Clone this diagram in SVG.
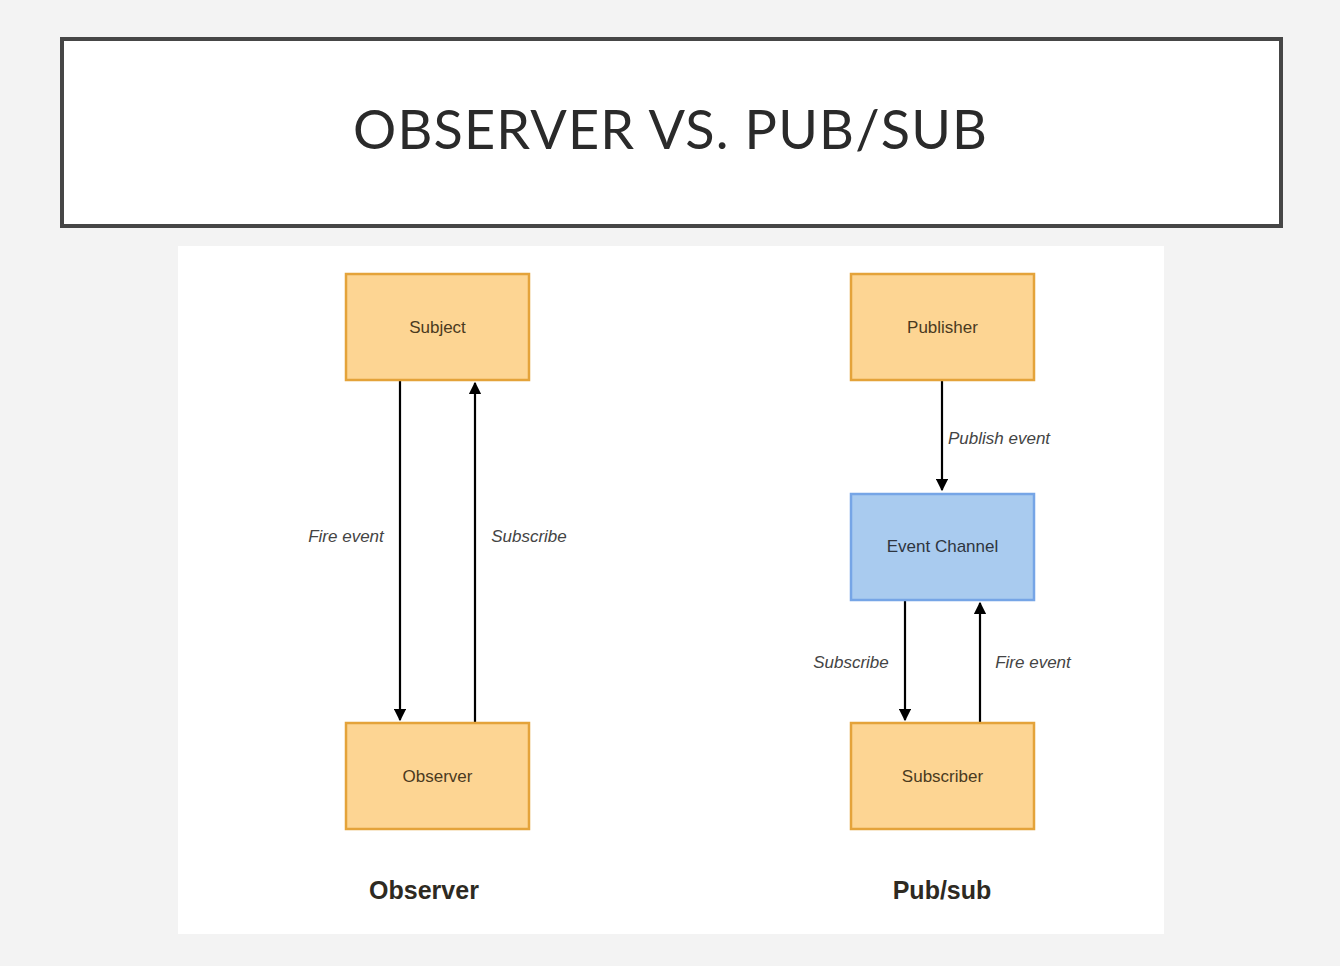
<svg xmlns="http://www.w3.org/2000/svg" width="1340" height="966" viewBox="0 0 1340 966">
<style>
.orange{fill:#fdd593;stroke:#e4a33a;stroke-width:2.5}
.blue{fill:#a9cbef;stroke:#76a5e6;stroke-width:2.5}
.nt{font-family:"Liberation Sans",Arial,sans-serif;font-size:17px;text-anchor:middle;fill:#4a3a1e}
.nb{font-family:"Liberation Sans",Arial,sans-serif;font-size:17px;text-anchor:middle;fill:#2e3540}
.lbl{font-family:"Liberation Sans",Arial,sans-serif;font-size:17px;font-style:italic;fill:#444}
.cap{font-family:"Liberation Sans",Arial,sans-serif;font-size:25px;font-weight:bold;text-anchor:middle;fill:#2e2a22}
.edge{stroke:#000;stroke-width:2.2;fill:none;marker-end:url(#ah)}
</style>
<defs>
<marker id="ah" viewBox="0 0 10 10" refX="9" refY="5" markerWidth="5.5" markerHeight="5.5" markerUnits="strokeWidth" orient="auto">
<path d="M0,0 L10,5 L0,10 z" fill="#000"/>
</marker>
</defs>
<rect x="0" y="0" width="1340" height="966" fill="#f3f3f3"/>
<g id="title">
<rect x="62" y="39" width="1219" height="187" fill="#fff" stroke="#464646" stroke-width="4"/>
<text x="670" y="149" font-family="Lato,'Open Sans',sans-serif" font-size="54" fill="#2a2a2a" text-anchor="middle" textLength="634" lengthAdjust="spacing">OBSERVER VS. PUB/SUB</text>
</g>
<rect x="178" y="246" width="986" height="688" fill="#fff"/>
<g id="connectors">
<line class="edge" x1="400" y1="380" x2="400" y2="720"/>
<line class="edge" x1="475" y1="723" x2="475" y2="383"/>
<line class="edge" x1="942" y1="380" x2="942" y2="490"/>
<line class="edge" x1="905" y1="600" x2="905" y2="720"/>
<line class="edge" x1="980" y1="723" x2="980" y2="603"/>
<text class="lbl" x="346" y="542" text-anchor="middle">Fire event</text>
<text class="lbl" x="529" y="542" text-anchor="middle">Subscribe</text>
<text class="lbl" x="948" y="444">Publish event</text>
<text class="lbl" x="851" y="668" text-anchor="middle">Subscribe</text>
<text class="lbl" x="1033" y="668" text-anchor="middle">Fire event</text>
</g>
<g id="subject">
<rect class="orange" x="346" y="274" width="183" height="106"/>
<text class="nt" x="437.5" y="333">Subject</text>
</g>
<g id="observer">
<rect class="orange" x="346" y="723" width="183" height="106"/>
<text class="nt" x="437.5" y="782">Observer</text>
</g>
<g id="publisher">
<rect class="orange" x="851" y="274" width="183" height="106"/>
<text class="nt" x="942.5" y="333">Publisher</text>
</g>
<g id="event-channel">
<rect class="blue" x="851" y="494" width="183" height="106"/>
<text class="nb" x="942.5" y="552">Event Channel</text>
</g>
<g id="subscriber">
<rect class="orange" x="851" y="723" width="183" height="106"/>
<text class="nt" x="942.5" y="782">Subscriber</text>
</g>
<g id="captions">
<text class="cap" x="424" y="899">Observer</text>
<text class="cap" x="942" y="899">Pub/sub</text>
</g>
</svg>
